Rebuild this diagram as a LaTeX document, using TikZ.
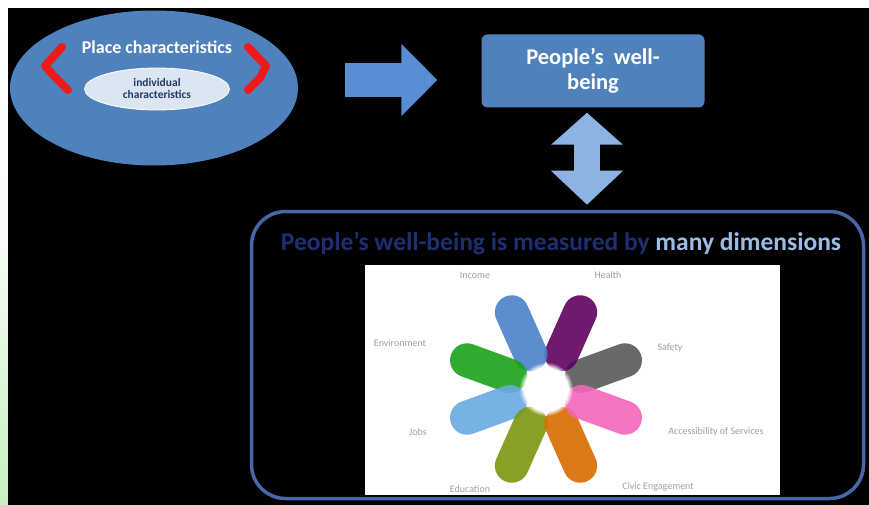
\documentclass[tikz,border=0pt]{standalone}
\usepackage{fontspec}
\setmainfont{Carlito}
\usetikzlibrary{shapes.geometric, arrows.meta, fadings}

\definecolor{officeblue}{HTML}{4F81BD}
\definecolor{arrowblue}{HTML}{5A8ED4}
\definecolor{paleblue}{HTML}{8DB3E2}
\definecolor{innerfill}{HTML}{DCE6F2}
\definecolor{navytext}{HTML}{1F3864}
\definecolor{titlenavy}{HTML}{1E2E72}
\definecolor{titlelight}{HTML}{9CBCE8}
\definecolor{frameblue}{HTML}{4A66AA}
\definecolor{stripgreen}{HTML}{C6F0C0}
\definecolor{bracketred}{HTML}{F01818}

\begin{document}
\begin{tikzpicture}[
    x=1pt, y=-1pt,
    place/.style={ellipse, fill=officeblue, minimum width=288pt, minimum height=155pt, inner sep=0pt},
    indiv/.style={ellipse, fill=innerfill, draw=white, thick, minimum width=145pt, minimum height=42pt,
        inner sep=0pt, align=center, text=navytext, font=\bfseries\fontsize{11.5}{12}\selectfont},
    wellbox/.style={rectangle, rounded corners=6pt, fill=officeblue, minimum width=223pt, minimum height=73pt,
        align=center, text=white, font=\bfseries\fontsize{22.5}{25}\selectfont},
    dimsbox/.style={rectangle, rounded corners=34pt, draw=frameblue, line width=3.5pt,
        minimum width=612pt, minimum height=287pt},
    bracket/.style={draw=bracketred, line width=8pt, line cap=round, line join=round},
    petal/.style={line width=34pt, line cap=round, draw opacity=0.9},
    dimlabel/.style={text=gray!75, font=\fontsize{10}{11}\selectfont}
]

    % Frame of the slide
    \useasboundingbox (0,0) rectangle (869,505);
    \fill[white] (0,0) rectangle (869,8);
    \shade[top color=white, bottom color=stripgreen, middle color=white!80!stripgreen] (0,8) rectangle (8,505);
    \fill[black] (8,8) rectangle (869,505);

    % Place characteristics
    \node[place] (place) at (154,88) {};
    \node[text=white, font=\bfseries\fontsize{18}{20}\selectfont] (placetitle) at (157,47) {Place characteristics};
    \node[indiv] (indiv) at (157,89) {individual\\characteristics};
    \draw[bracket] (62,47) -- (45,66) -- (54,76) -- (68,90);
    \draw[bracket] (248,47) -- (266,66) -- (260,78) -- (248,90);

    % Well-being
    \node[wellbox] (wellbeing) at (593,71) {People's\ \ well-\\being};
    \coordinate (armid) at (0,80);
    \draw[arrowblue, line width=34pt, -{Triangle[length=36pt, width=70pt]}, shorten <=47pt, shorten >=44pt]
        (place.east |- armid) -- (wellbeing.west |- armid);

    % Dimensions
    \node[dimsbox] (dims) at (557.5,355) {};
    \node[font=\bfseries\fontsize{25.5}{28}\selectfont] (dimstitle) at (561,243)
        {\textcolor{titlenavy}{People's well-being is measured by} \textcolor{titlelight}{many dimensions}};
    \draw[paleblue, line width=26pt, {Triangle[length=32pt, width=70pt]}-{Triangle[length=34pt, width=70pt]},
        shorten <=5pt, shorten >=5pt]
        ([xshift=-6pt]wellbeing.south) -- ([xshift=-6pt]wellbeing.south |- dims.north);

    % Flower chart
    \node[fill=white, minimum width=415pt, minimum height=230pt, inner sep=0pt] (chart) at (572.5,380) {};
    \coordinate (hub) at (546,389);
    \foreach \ang/\col in {20/{black!65}, 66/{violet!75!black}, 114/{cyan!45!blue!75}, 160/{green!60!black!90},
                           200/{cyan!65!blue!60}, 246/{olive!70!green}, 294/{orange!85!black}, 340/{magenta!60!white}}
        \draw[petal, draw=\col] ([shift={(-\ang:38)}]hub) -- ([shift={(-\ang:84)}]hub);
    \fill[white, path fading=circle with fuzzy edge 20 percent] (hub) circle (27);

    \node[dimlabel] (income) at (475,275) {Income};
    \node[dimlabel] (health) at (608,275) {Health};
    \node[dimlabel] (environment) at (400,343) {Environment};
    \node[dimlabel] (safety) at (670,348) {Safety};
    \node[dimlabel] (jobs) at (418,432) {Jobs};
    \node[dimlabel] (access) at (716,432) {Accessibility of Services};
    \node[dimlabel] (education) at (470,489) {Education};
    \node[dimlabel] (civic) at (658,487) {Civic Engagement};

\end{tikzpicture}
\end{document}
